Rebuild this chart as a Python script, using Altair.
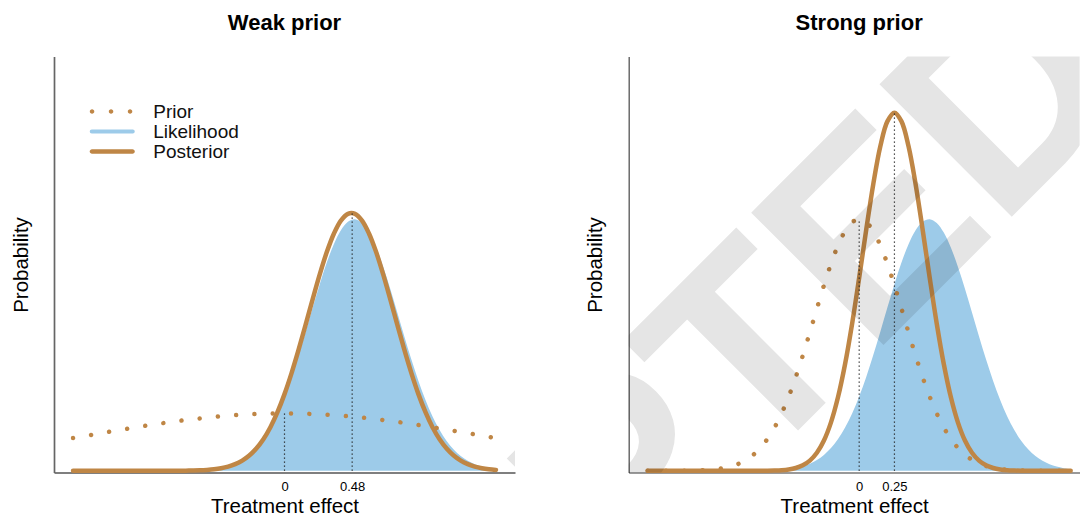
import altair as alt
import pandas as pd

FONT = "Liberation Sans"
BROWN = "#BF8646"
BLUE = "#9DCBE9"

series_names = ["Prior", "Likelihood", "Posterior"]
series_colors = [BROWN, BLUE, BROWN]

# sample positions (treatment effect)
x_grid = [-1.5, -1.45, -1.4, -1.35, -1.3, -1.25, -1.2, -1.15, -1.1, -1.05,
          -1.0, -0.95, -0.9, -0.85, -0.8, -0.75, -0.7, -0.65, -0.6, -0.55,
          -0.5, -0.45, -0.4, -0.35, -0.3, -0.25, -0.2, -0.15, -0.1, -0.05,
          0.0, 0.05, 0.1, 0.15, 0.2, 0.25, 0.3, 0.35, 0.4, 0.45,
          0.5, 0.55, 0.6, 0.65, 0.7, 0.75, 0.8, 0.85, 0.9, 0.95,
          1.0, 1.05, 1.1, 1.15, 1.2, 1.25, 1.3, 1.35, 1.4, 1.45, 1.5]
x_prior_weak = [-1.5, -1.4, -1.3, -1.2, -1.1, -1.0, -0.9, -0.8, -0.7, -0.6,
                -0.5, -0.4, -0.3, -0.2, -0.1, 0.0, 0.1, 0.2, 0.3, 0.4,
                0.5, 0.6, 0.7, 0.8, 0.9, 1.0, 1.1, 1.2, 1.3, 1.4, 1.5]

# likelihood (same data in both panels)
likelihood = [0, 0, 0, 0, 0, 0, 0, 0, 0, 0,
              0, 0, 0, 0.0001, 0.0001, 0.0003, 0.0005, 0.0009, 0.0016, 0.0026,
              0.0044, 0.0071, 0.0112, 0.0173, 0.0261, 0.0382, 0.0547, 0.0764, 0.1039, 0.138,
              0.1788, 0.2258, 0.2784, 0.3346, 0.3924, 0.4488, 0.5007, 0.5449, 0.5784, 0.599,
              0.605, 0.596, 0.5727, 0.5368, 0.4908, 0.4378, 0.3808, 0.3231, 0.2675, 0.216,
              0.1701, 0.1307, 0.0979, 0.0715, 0.051, 0.0355, 0.0241, 0.0159, 0.0103, 0.0065, 0.004]

# weak prior panel
prior_weak = [0.0787, 0.0846, 0.0905, 0.0963, 0.1020, 0.1075, 0.1127, 0.1176, 0.1221, 0.1261,
              0.1297, 0.1326, 0.1349, 0.1366, 0.1377, 0.138, 0.1377, 0.1366, 0.1349, 0.1326,
              0.1297, 0.1261, 0.1221, 0.1176, 0.1127, 0.1075, 0.1020, 0.0963, 0.0905, 0.0846, 0.0787]
posterior_weak = [0, 0, 0, 0, 0, 0, 0, 0, 0, 0,
                  0, 0, 0, 0, 0.0001, 0.0002, 0.0004, 0.0007, 0.0012, 0.0022,
                  0.0037, 0.0062, 0.0101, 0.016, 0.0246, 0.0368, 0.0536, 0.076, 0.1048, 0.141,
                  0.1844, 0.2349, 0.2912, 0.3514, 0.4129, 0.4723, 0.5259, 0.570, 0.6015, 0.6179,
                  0.6179, 0.6015, 0.570, 0.5259, 0.4723, 0.4129, 0.3514, 0.2912, 0.2349, 0.1844,
                  0.141, 0.1048, 0.076, 0.0536, 0.0368, 0.0246, 0.016, 0.0101, 0.0062, 0.0037, 0.0022]

# strong prior panel
prior_strong = [0, 0, 0.0001, 0.0001, 0.0002, 0.0003, 0.0005, 0.0010, 0.0016, 0.0028,
                0.0046, 0.0074, 0.0116, 0.0178, 0.0266, 0.0388, 0.0553, 0.0769, 0.1043, 0.138,
                0.1785, 0.225, 0.277, 0.3327, 0.390, 0.446, 0.4977, 0.542, 0.576, 0.5977,
                0.605, 0.5977, 0.576, 0.542, 0.4977, 0.446, 0.390, 0.3327, 0.277, 0.225,
                0.1785, 0.138, 0.1043, 0.0769, 0.0553, 0.0388, 0.0266, 0.0178, 0.0116, 0.0074,
                0.0046, 0.0028, 0.0016, 0.0010, 0.0005, 0.0003, 0.0002, 0.0001, 0.0001, 0, 0]
posterior_strong = [0, 0, 0, 0, 0, 0, 0, 0, 0, 0,
                    0, 0, 0, 0, 0, 0, 0.0001, 0.0003, 0.0007, 0.0015,
                    0.0033, 0.0068, 0.0133, 0.0246, 0.0434, 0.0729, 0.1165, 0.1773, 0.2567, 0.354,
                    0.4644, 0.580, 0.6894, 0.780, 0.840, 0.861, 0.840, 0.780, 0.6894, 0.580,
                    0.4644, 0.354, 0.2567, 0.1773, 0.1165, 0.0729, 0.0434, 0.0246, 0.0133, 0.0068,
                    0.0033, 0.0015, 0.0007, 0.0003, 0.0001, 0, 0, 0, 0, 0, 0]

# dotted reference lines and tick labels
weak_marks_x = [0, 0.48]
weak_marks_top = [0.138, 0.62]
strong_marks_x = [0, 0.25]
strong_marks_top = [0.605, 0.861]
marks_base = [0, 0]
weak_ticks = [0, 0.48]
strong_ticks = [0, 0.25]

watermark = "ACCEPTED"

# legend symbol shapes (unit path, scaled by the legend symbol size)
DOTS = ("M-4.49,0a0.45,0.45 0 1,0 0.9,0a0.45,0.45 0 1,0 -0.9,0"
        "M-0.69,0a0.45,0.45 0 1,0 0.9,0a0.45,0.45 0 1,0 -0.9,0"
        "M3.11,0a0.45,0.45 0 1,0 0.9,0a0.45,0.45 0 1,0 -0.9,0")
PILL_THIN = "M-4.1,-0.4H4.1A0.4,0.4 0 0 1 4.1,0.4H-4.1A0.4,0.4 0 0 1 -4.1,-0.4Z"
PILL = "M-4.05,-0.45H4.05A0.45,0.45 0 0 1 4.05,0.45H-4.05A0.45,0.45 0 0 1 -4.05,-0.45Z"

INTERP = "catmull-rom"


def panel(title, x_prior, prior, post, marks_x, marks_top, ticks, xdomain, width,
          legend, wm_xy, title_dx, ydom_color, ydom_width, xdom_color, xdom_width):
    xscale = alt.Scale(domain=xdomain, nice=False, zero=False)
    yscale = alt.Scale(domain=[-0.004, 0.996], nice=False, zero=False)
    xaxis = alt.Axis(values=ticks, format=".2~f", ticks=False, tickSize=0, grid=False,
                     labelPadding=7.5, labelFont=FONT, labelFontSize=13, labelColor="#000",
                     labelOverlap=False, title="Treatment effect", titleFont=FONT,
                     titleFontSize=20.5, titleFontWeight="normal", titleColor="#000",
                     titlePadding=3.5, domainColor=xdom_color, domainWidth=xdom_width)
    yaxis = alt.Axis(labels=False, ticks=False, tickSize=0, grid=False,
                     title="Probability", titleFont=FONT, titleFontSize=20.5,
                     titleFontWeight="normal", titleColor="#000", titlePadding=23,
                     domainColor=ydom_color, domainWidth=ydom_width)
    X = alt.X("x:Q", scale=xscale, axis=xaxis)
    Y = alt.Y("y:Q", scale=yscale, axis=yaxis)

    lik_df = pd.DataFrame({"x": x_grid, "y": likelihood})
    area = alt.Chart(lik_df).mark_area(color=BLUE, interpolate=INTERP).encode(x=X, y=Y)

    prior_df = pd.DataFrame({"x": x_prior, "y": prior})
    prior_line = alt.Chart(prior_df).mark_line(
        color=BROWN, strokeWidth=4.5, strokeCap="round", strokeDash=[0.01, 18.3],
        interpolate=INTERP).encode(x=X, y=Y)

    post_df = pd.DataFrame({"x": x_grid, "y": post})
    post_line = alt.Chart(post_df).mark_line(
        color=BROWN, strokeWidth=4.5, strokeCap="round", interpolate=INTERP
    ).encode(x=X, y=Y)

    rules_df = pd.DataFrame({"x": marks_x, "y": marks_base, "top": marks_top})
    rules = alt.Chart(rules_df).mark_rule(color="#222", strokeWidth=1.2,
                                          strokeDash=[1.4, 2.6]).encode(
        x=X, y=Y, y2="top:Q")

    wm = alt.Chart(alt.Data(values=[{"t": watermark}])).mark_text(
        angle=315, align="center", baseline="alphabetic", font=FONT,
        fontWeight="bold", fontSize=272, color="#000", opacity=0.1, clip=True
    ).encode(x=alt.value(wm_xy[0]), y=alt.value(wm_xy[1]), text="t:N")

    layers = [area, prior_line, post_line, rules]
    if legend is not None:
        # key layer: only feeds the legend (its own points sit outside the clipped view)
        key_df = pd.DataFrame({"series": series_names})
        key = alt.Chart(key_df).mark_point(filled=True, size=100, clip=True).encode(
            x=alt.value(-200), y=alt.value(-200),
            color=alt.Color("series:N", scale=alt.Scale(domain=series_names,
                                                        range=series_colors),
                            legend=legend),
            shape=alt.Shape("series:N", scale=alt.Scale(domain=series_names,
                                                        range=[DOTS, PILL_THIN, PILL]),
                            legend=legend))
        layers.append(key)
    layers.append(wm)

    return alt.layer(*layers).properties(
        width=width, height=416,
        title=alt.TitleParams(title, font=FONT, fontSize=22, fontWeight="bold",
                              color="#000", anchor="middle", frame="group",
                              baseline="alphabetic", offset=4.4, dx=title_dx))


legend = alt.Legend(title=None, orient="none", legendX=48.75, legendY=45.5,
                    symbolSize=100, symbolStrokeWidth=0, symbolOpacity=1,
                    labelFont=FONT, labelFontSize=19, labelColor="#111",
                    labelOffset=31.5, rowPadding=0, padding=0, labelLimit=300)

left = panel("Weak prior", x_prior_weak, prior_weak, posterior_weak,
             weak_marks_x, weak_marks_top, weak_ticks, [-1.635, 1.635], 461, legend,
             (556.2, 563.1), 0, "#666", 1.7, "#555", 1.5)
right = panel("Strong prior", x_grid, prior_strong, posterior_strong,
              strong_marks_x, strong_marks_top, strong_ticks, [-1.635, 1.5636], 451, None,
              (-19.8, 563.1), 5, "#222", 1.0, "#777", 1.3)

chart = alt.hconcat(left, right, spacing=70.65).resolve_scale(
    x="independent", y="independent"
).properties(
    padding={"left": 3, "top": 3.5, "right": 0, "bottom": 0}
).configure(background="white", view=alt.ViewConfig(strokeWidth=0))

chart.save("out.html", embed_options={"renderer": "svg", "actions": False})
